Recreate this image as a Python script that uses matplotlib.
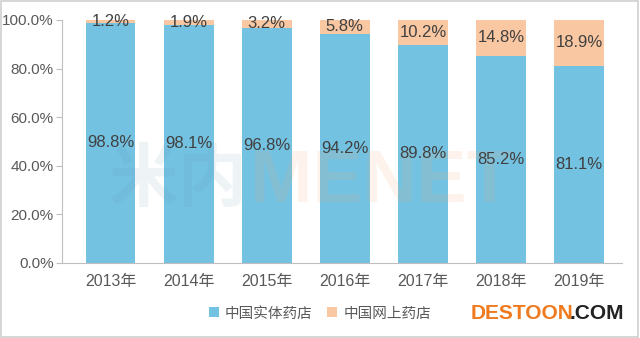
import matplotlib
matplotlib.use("Agg")
import matplotlib.pyplot as plt
from matplotlib.patches import Rectangle

plt.rcParams['font.family'] = ['Liberation Sans', 'Noto Sans CJK SC', 'DejaVu Sans']

years = ['2013年', '2014年', '2015年', '2016年', '2017年', '2018年', '2019年']
physical = [98.8, 98.1, 96.8, 94.2, 89.8, 85.2, 81.1]
online = [1.2, 1.9, 3.2, 5.8, 10.2, 14.8, 18.9]
series_names = ['中国实体药店', '中国网上药店']

blue = '#74C2E2'
orange = '#F9C7A2'
txt = '#404040'

fig = plt.figure(figsize=(6.4, 3.38), dpi=100)
ax = fig.add_axes([0.097, 0.222, 0.875, 0.719])

x = list(range(len(years)))
w = 0.64
b1 = ax.bar(x, physical, width=w, color=blue, label=series_names[0], zorder=2)
b2 = ax.bar(x, online, width=w, bottom=physical, color=orange, label=series_names[1], zorder=2)

for i in x:
    ax.text(i, physical[i] / 2, f'{physical[i]:.1f}%', ha='center', va='center', fontsize=12, color=txt, zorder=4)
    ax.text(i, physical[i] + online[i] / 2, f'{online[i]:.1f}%', ha='center', va='center', fontsize=12, color=txt, zorder=4)

ax.set_xlim(-0.62, 6.55)
ax.set_ylim(0, 100)
ax.set_yticks([0, 20, 40, 60, 80, 100])
ax.set_yticklabels([f'{v:.1f}%' for v in [0, 20, 40, 60, 80, 100]], fontsize=11, color='#595959')
ax.set_xticks(x)
ax.set_xticklabels(years, fontsize=11.5, color='#595959')
ax.tick_params(axis='x', length=0, pad=8)
ax.tick_params(axis='y', length=4, color='#BFBFBF', pad=2)
for s in ['top', 'right']:
    ax.spines[s].set_visible(False)
ax.spines['left'].set_color('#BFBFBF')
ax.spines['bottom'].set_color('#BFBFBF')

# faint watermark behind the bars' labels
ax.text(1.75, 33, '米内', fontsize=50, color='#5A8FA8', alpha=0.10,
        ha='right', va='center', fontweight='bold', zorder=3)
ax.text(1.78, 33, 'MENET', fontsize=54, color='#F5A46A', alpha=0.12,
        ha='left', va='center', fontweight='bold', zorder=3)

leg = fig.legend(handles=[b1, b2], loc='center', bbox_to_anchor=(0.5, 0.073), ncol=2,
                 frameon=False, fontsize=10.5, handlelength=0.7, handleheight=0.7,
                 handletextpad=0.4, columnspacing=1.0)
for t in leg.get_texts():
    t.set_color('#595959')

fig.text(0.735, 0.073, 'DESTOON', fontsize=15, fontweight='bold', color='#F07A1E', ha='left', va='center')
fig.text(0.975, 0.073, '.COM', fontsize=15, fontweight='bold', color='#222222', ha='right', va='center')

fig.patches.append(Rectangle((0.002, 0.003), 0.995, 0.993, transform=fig.transFigure,
                             fill=False, edgecolor='#D0D0D0', linewidth=1.2))

fig.savefig('out.png', dpi=100)
